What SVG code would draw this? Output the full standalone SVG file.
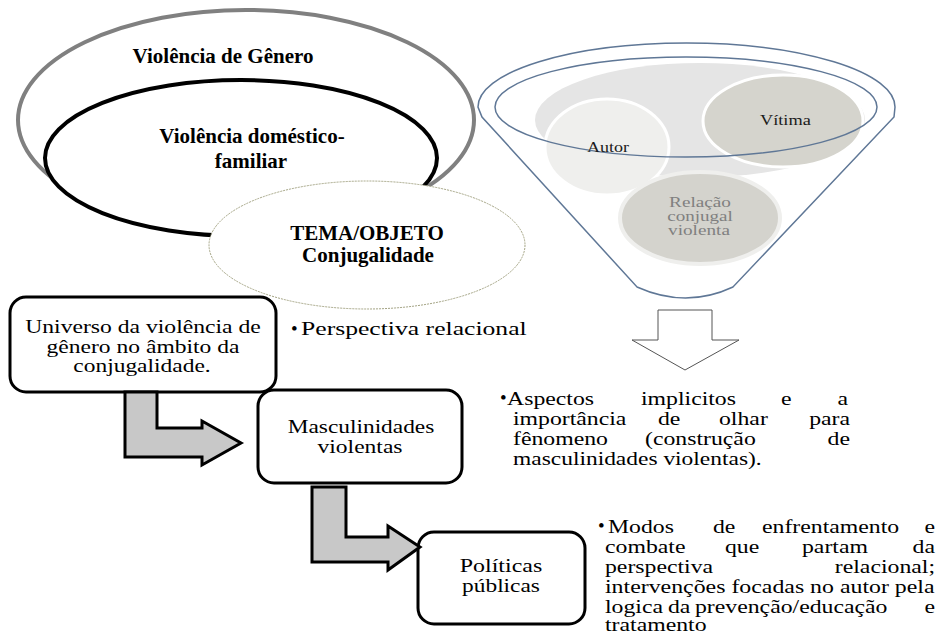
<svg xmlns="http://www.w3.org/2000/svg" width="947" height="633" viewBox="0 0 947 633">
<style>
text{font-family:"Liberation Serif","Times New Roman",serif;fill:#000}
.b{font-weight:bold;font-size:21px;text-anchor:middle}
.r{font-size:19px}
.m{text-anchor:middle}
.e{text-anchor:end}
.s{font-size:15px;fill:#1a1a1a}
.g{font-size:15px;fill:#808080;text-anchor:middle}
.box{fill:#fff;stroke:#000;stroke-width:3}
.bent{fill:#c8c8c8;stroke:#000;stroke-width:3;stroke-linejoin:miter}
.fun{fill:none;stroke:#5f7796;stroke-width:1.5}
</style>
<rect width="947" height="633" fill="#fff"/>

<g id="violencia-genero">
<ellipse cx="246" cy="120" rx="228" ry="110" fill="#fff" stroke="#808080" stroke-width="4"/>
<text class="b" x="223" y="63">Violência de Gênero</text>
</g>
<g id="violencia-domestica">
<ellipse cx="241" cy="158" rx="196" ry="78" fill="#fff" stroke="#000" stroke-width="4"/>
<text class="b" x="252" y="143">Violência doméstico-</text>
<text class="b" x="251" y="168">familiar</text>
</g>
<g id="tema-objeto">
<ellipse cx="367" cy="245" rx="158" ry="64" fill="#fff" stroke="#a3a383" stroke-width="1" stroke-dasharray="2 1"/>
<text class="b" x="367" y="240">TEMA/OBJETO</text>
<text class="b" x="368" y="262">Conjugalidade</text>
</g>

<g id="funil">
<path d="M478,107 A208.5,64 0 0 1 895,107 L894,117 L733,287 Q686,309 637,287 L482,117 Z" fill="#fff" stroke="#5f7796" stroke-width="1.5"/>
<ellipse cx="700" cy="120" rx="165" ry="57" fill="#e5e5e5"/>
<g id="autor">
<ellipse cx="607" cy="147" rx="62" ry="48" fill="#efefed" stroke="#fff" stroke-width="3"/>
</g>
<g id="vitima">
<ellipse cx="783" cy="121" rx="80" ry="46" fill="#d5d4cd" stroke="#fff" stroke-width="3"/>
</g>
<g id="relacao">
<ellipse cx="700" cy="218" rx="80" ry="46" fill="#d4d3cd" stroke="#efefed" stroke-width="4"/>
</g>
<ellipse class="fun" cx="686" cy="107" rx="191" ry="50"/>
<text class="s" transform="translate(760,125) scale(1.22,1)">Vítima</text>
<text class="s" transform="translate(587,152) scale(1.2,1)">Autor</text>
<text class="g" transform="translate(700,207) scale(1.28,1)">Relação</text>
<text class="g" transform="translate(700,221) scale(1.27,1)">conjugal</text>
<text class="g" transform="translate(699,235) scale(1.28,1)">violenta</text>
</g>

<g id="universo">
<rect class="box" x="10" y="297" width="266" height="95" rx="16"/>
<text class="r m" transform="translate(143,333) scale(1.245,1)">Universo da violência de</text>
<text class="r m" transform="translate(143,353) scale(1.24,1)">gênero no âmbito da</text>
<text class="r m" transform="translate(142,372) scale(1.235,1)">conjugalidade.</text>
</g>
<g id="perspectiva">
<text class="r" x="291" y="335">•</text>
<text class="r" transform="translate(301,335) scale(1.35,1)">Perspectiva relacional</text>
</g>
<g id="masculinidades">
<rect class="box" x="258" y="390" width="204" height="93" rx="16"/>
<text class="r m" transform="translate(361,433) scale(1.23,1)">Masculinidades</text>
<text class="r m" transform="translate(360,453) scale(1.24,1)">violentas</text>
</g>
<g id="politicas">
<rect class="box" x="418" y="532" width="167" height="92" rx="16"/>
<text class="r m" transform="translate(501,572) scale(1.26,1)">Políticas</text>
<text class="r m" transform="translate(501,592) scale(1.23,1)">públicas</text>
</g>

<g id="aspectos">
<text class="r" x="500" y="404">•</text>
<text class="r" transform="translate(507,405) scale(1.25,1)">Aspectos</text>
<text class="r" transform="translate(641,405) scale(1.25,1)">implicitos</text>
<text class="r" transform="translate(781,405) scale(1.25,1)">e</text>
<text class="r e" transform="translate(848,405) scale(1.25,1)">a</text>
<text class="r" transform="translate(513,425) scale(1.25,1)">importância</text>
<text class="r" transform="translate(658,425) scale(1.25,1)">de</text>
<text class="r" transform="translate(719,425) scale(1.25,1)">olhar</text>
<text class="r e" transform="translate(850,425) scale(1.25,1)">para</text>
<text class="r" transform="translate(513,445) scale(1.25,1)">fênomeno</text>
<text class="r" transform="translate(645,445) scale(1.25,1)">(construção</text>
<text class="r e" transform="translate(850,445) scale(1.25,1)">de</text>
<text class="r" transform="translate(513,465) scale(1.235,1)">masculinidades violentas).</text>
</g>

<g id="modos">
<text class="r" x="598" y="532">•</text>
<text class="r" transform="translate(608,533) scale(1.25,1)">Modos</text>
<text class="r" transform="translate(713,533) scale(1.25,1)">de</text>
<text class="r" transform="translate(762,533) scale(1.25,1)">enfrentamento</text>
<text class="r e" transform="translate(935,533) scale(1.25,1)">e</text>
<text class="r" transform="translate(605,553) scale(1.25,1)">combate</text>
<text class="r" transform="translate(725,553) scale(1.25,1)">que</text>
<text class="r" transform="translate(802,553) scale(1.25,1)">partam</text>
<text class="r e" transform="translate(935,553) scale(1.25,1)">da</text>
<text class="r" transform="translate(605,573) scale(1.25,1)">perspectiva</text>
<text class="r e" transform="translate(935,573) scale(1.25,1)">relacional;</text>
<text class="r" transform="translate(605,593) scale(1.255,1)">intervenções focadas no autor pela</text>
<text class="r" transform="translate(605,613) scale(1.25,1)">logica</text>
<text class="r" transform="translate(668,613) scale(1.25,1)">da</text>
<text class="r" transform="translate(695,613) scale(1.25,1)">prevenção/educação</text>
<text class="r e" transform="translate(935,613) scale(1.25,1)">e</text>
<text class="r" transform="translate(605,631) scale(1.25,1)">tratamento</text>
</g>

<g id="connectors">
<polygon class="bent" points="125,392 157,392 157,428 202,428 202,421 241,443 202,465 202,457 125,457"/>
<polygon class="bent" points="312,487 346,487 346,537 388,537 388,526 420,547 388,570 388,562 312,562"/>
<polygon points="658,310 712,310 712,340 739,340 685,370 632,340 658,340" fill="#fff" stroke="#555" stroke-width="1"/>
</g>
</svg>
